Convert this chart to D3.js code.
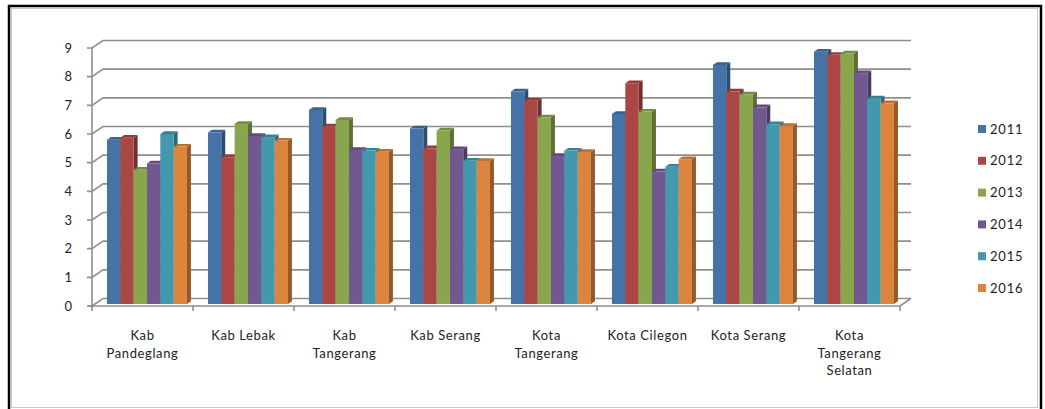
<!DOCTYPE html>
<html>
<head>
<meta charset="utf-8">
<script src="https://cdn.jsdelivr.net/npm/d3@7"></script>
<style>
  html, body { margin: 0; padding: 0; background: #fff; }
  svg { display: block; }
  text { font-family: Lato, "Open Sans", sans-serif; fill: #222; }
</style>
</head>
<body>
<svg id="chart" width="1045" height="409"></svg>
<script>
// Regions (x categories)
const categories = [
  "Kab Pandeglang", "Kab Lebak", "Kab Tangerang", "Kab Serang",
  "Kota Tangerang", "Kota Cilegon", "Kota Serang", "Kota Tangerang Selatan"
];

// Years shown in the legend
const years = ["2011", "2012", "2013", "2014", "2015", "2016"];

// One array per year, in category order
const v2011 = [5.73, 5.98, 6.77, 6.12, 7.41, 6.63, 8.34, 8.80];
const v2012 = [5.80, 5.12, 6.19, 5.43, 7.09, 7.70, 7.41, 8.69];
const v2013 = [4.68, 6.28, 6.42, 6.05, 6.51, 6.71, 7.31, 8.74];
const v2014 = [4.90, 5.86, 5.37, 5.40, 5.16, 4.62, 6.86, 8.05];
const v2015 = [5.93, 5.82, 5.35, 5.00, 5.35, 4.79, 6.27, 7.17];
const v2016 = [5.49, 5.70, 5.31, 4.99, 5.30, 5.05, 6.21, 7.00];
const series = [v2011, v2012, v2013, v2014, v2015, v2016];

const yTicks = [0, 1, 2, 3, 4, 5, 6, 7, 8, 9];

const colors = ["#4572A7", "#AA4643", "#89A54E", "#71588F", "#4198AF", "#DB843D"];

const svg = d3.select("#chart");

// Chart frame
svg.append("rect").attr("x", 0).attr("y", 0).attr("width", 1045).attr("height", 409).attr("fill", "#fff");
svg.append("rect").attr("x", 11.5).attr("y", 8.5).attr("width", 1026).attr("height", 399)
  .attr("fill", "none").attr("stroke", "#c8c8c8").attr("stroke-width", 1);
svg.append("path").attr("d", "M9,409 V6 H1041 V409")
  .attr("fill", "none").attr("stroke", "#000").attr("stroke-width", 2.5);

// 3D projection: depth t in [0,1] shifts points right and up
const DEPTH_X = 11, DEPTH_Y = -7.5;
const proj = (x, y, t) => [x + t * DEPTH_X, y + t * DEPTH_Y];

const x0 = d3.scaleBand().domain(categories).range([92, 900]).padding(0);
const y = d3.scaleLinear().domain([0, 9]).range([306, 48]);
const x1 = d3.scaleBand().domain(years).range([0, 80]).padding(0);

const gridColor = "#8f8f8f";
const grid = svg.append("g");

// Walls: back gridlines with diagonal side-wall segments
yTicks.forEach(v => {
  const yf = y(v);
  const [bx, by] = proj(x0.range()[0], yf, 1);
  const [ex] = proj(x0.range()[1], yf, 1);
  grid.append("path")
    .attr("d", `M${x0.range()[0] - 5},${yf} H${x0.range()[0]} L${bx},${by} H${ex}`)
    .attr("fill", "none").attr("stroke", gridColor).attr("stroke-width", 1.6);
});

// Front value axis line
grid.append("line")
  .attr("x1", x0.range()[0]).attr("x2", x0.range()[0])
  .attr("y1", y(9)).attr("y2", y(0) + 2)
  .attr("stroke", gridColor).attr("stroke-width", 1.6);

// Floor outline (front edge and right side)
{
  const xa = x0.range()[0], xb = x0.range()[1];
  const [rx, ry] = proj(xb, y(0), 1);
  grid.append("path")
    .attr("d", `M${xa - 4},${y(0)} H${xb} L${rx},${ry}`)
    .attr("fill", "none").attr("stroke", gridColor).attr("stroke-width", 1.6);
}

// Category tick marks
const boundaries = categories.map(c => x0(c)).concat([x0.range()[1]]);
grid.selectAll("line.ctick").data(boundaries).join("line")
  .attr("class", "ctick")
  .attr("x1", d => d).attr("x2", d => d)
  .attr("y1", y(0)).attr("y2", y(0) + 5)
  .attr("stroke", gridColor).attr("stroke-width", 1.6);

// Y tick labels
svg.append("g").selectAll("text").data(yTicks).join("text")
  .attr("x", 72).attr("y", d => y(d))
  .attr("dy", "0.35em")
  .attr("text-anchor", "end")
  .attr("font-size", 13)
  .text(d => d);

// Bars: front face at depth T0, back at depth T1
const T0 = 0.27, T1 = 0.63;
const bars = svg.append("g");
categories.forEach((cat, ci) => {
  years.forEach((yr, si) => {
    const val = series[si][ci];
    const xl = x0(cat) + 12 + x1(yr);
    const w = x1.bandwidth();
    const [fx0, fyTop] = proj(xl, y(val), T0);
    const [, fyBot] = proj(xl, y(0), T0);
    const fx1 = fx0 + w;
    const dx = (T1 - T0) * DEPTH_X, dy = (T1 - T0) * DEPTH_Y;
    const base = d3.color(colors[si]);
    const g = bars.append("g");
    // right side face
    g.append("path")
      .attr("d", `M${fx1},${fyTop} L${fx1 + dx},${fyTop + dy} L${fx1 + dx},${fyBot + dy} L${fx1},${fyBot} Z`)
      .attr("fill", base.darker(1.1));
    // top face
    g.append("path")
      .attr("d", `M${fx0},${fyTop} L${fx0 + dx},${fyTop + dy} L${fx1 + dx},${fyTop + dy} L${fx1},${fyTop} Z`)
      .attr("fill", base.darker(0.45));
    // front face
    g.append("rect")
      .attr("x", fx0).attr("y", fyTop)
      .attr("width", w).attr("height", fyBot - fyTop)
      .attr("fill", base);
  });
});

// Category labels, wrapped to the category width
const labels = svg.append("g");
categories.forEach(cat => {
  const cx = x0(cat) + x0.bandwidth() / 2;
  const t = labels.append("text")
    .attr("x", cx).attr("y", 340)
    .attr("text-anchor", "middle")
    .attr("font-size", 13)
    .attr("letter-spacing", "0.6px");
  const words = cat.split(" ");
  let lines = [], line = [];
  const probe = t.append("tspan");
  words.forEach(wd => {
    const trial = line.concat([wd]).join(" ");
    probe.text(trial);
    if (probe.node().getComputedTextLength() > 86 && line.length) {
      lines.push(line.join(" "));
      line = [wd];
    } else {
      line.push(wd);
    }
  });
  lines.push(line.join(" "));
  probe.remove();
  lines.forEach((ln, i) => {
    t.append("tspan").attr("x", cx).attr("dy", i === 0 ? 0 : 17.6).text(ln);
  });
});

// Legend
const legend = svg.append("g");
years.forEach((yr, i) => {
  const ly = 129 + i * 31.8;
  legend.append("rect").attr("x", 978).attr("y", ly - 4).attr("width", 8).attr("height", 8)
    .attr("fill", colors[i]);
  legend.append("text").attr("x", 990).attr("y", ly).attr("dy", "0.35em")
    .attr("font-size", 13).attr("letter-spacing", "0.8px").text(yr);
});
</script>
</body>
</html>
